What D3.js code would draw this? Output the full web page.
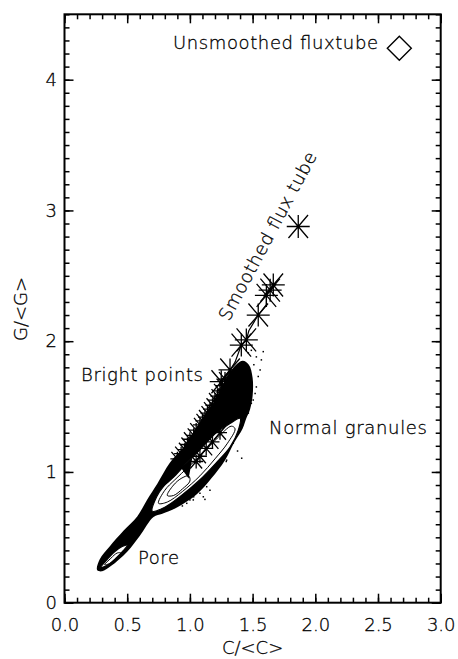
<!DOCTYPE html>
<html>
<head>
<meta charset="utf-8">
<script src="https://cdn.jsdelivr.net/npm/d3@7"></script>
<style>
  body { margin: 0; background: #fff; }
  svg { display: block; }
  text { font-family: "DejaVu Sans", sans-serif; font-size: 18px; font-weight: 200; fill: #000; stroke: #000; stroke-width: 0.3; }
</style>
</head>
<body>
<svg id="chart" width="458" height="659"></svg>
<script>
// Tick labels
const xTicks = [0, 0.5, 1, 1.5, 2, 2.5, 3];
const yTicks = [0, 1, 2, 3, 4];

// Envelope of the dense scatter cloud (C/<C>, G/<G>)
const cloudC = [0.26, 0.28, 0.36, 0.47, 0.58, 0.66, 0.74, 0.84, 0.95, 1.05, 1.19, 1.28, 1.34, 1.42, 1.47, 1.50, 1.50, 1.48, 1.45,
  1.42, 1.35, 1.28, 1.17, 1.055, 0.90, 0.78, 0.71, 0.60, 0.50, 0.37, 0.30];
const cloudG = [0.25, 0.33, 0.43, 0.55, 0.66, 0.79, 0.91, 1.07, 1.19, 1.33, 1.53, 1.70, 1.79, 1.85, 1.82, 1.72, 1.58, 1.48, 1.41,
  1.33, 1.22, 1.09, 0.95, 0.83, 0.73, 0.68, 0.655, 0.51, 0.39, 0.28, 0.24];

// Outer contour of the granule population
const granC = [0.70, 0.735, 0.79, 0.87, 0.975, 1.08, 1.21, 1.32, 1.40, 1.386, 1.32, 1.21, 1.08, 0.92, 0.80];
const granG = [0.70, 0.81, 0.89, 0.96, 1.07, 1.17, 1.30, 1.37, 1.41, 1.32, 1.19, 1.07, 0.94, 0.81, 0.73];

// Dense wedge reaching into the granule contour
const wedgeC = [0.93, 1.02, 0.99];
const wedgeG = [1.03, 1.11, 0.95];

// Inner granule contours
const gran2C = [0.75, 0.80, 0.88, 0.99, 1.10, 1.22, 1.33, 1.36, 1.30, 1.20, 1.08, 0.94, 0.82];
const gran2G = [0.76, 0.86, 0.94, 1.04, 1.14, 1.26, 1.35, 1.33, 1.22, 1.10, 0.97, 0.85, 0.77];
const gran3C = [0.82, 0.87, 0.93, 0.99, 1.00, 0.94, 0.87];
const gran3G = [0.82, 0.90, 0.95, 0.97, 0.93, 0.87, 0.82];

// Pore contours
const poreC = [0.29, 0.34, 0.40, 0.46, 0.50, 0.47, 0.41, 0.35];
const poreG = [0.27, 0.33, 0.39, 0.43, 0.44, 0.40, 0.34, 0.29];
const pore2C = [0.32, 0.37, 0.42, 0.45, 0.41, 0.36];
const pore2G = [0.29, 0.34, 0.38, 0.38, 0.34, 0.30];

// Sparse points outside the dense cloud
const dotC = [1.585, 1.57, 1.56, 1.545, 1.53, 1.52, 1.505, 1.49, 1.466, 1.51, 0.975, 1.03, 1.08, 1.134, 1.147, 1.107,
  1.00, 1.054, 1.413, 1.29, 1.346, 1.466, 1.49, 1.293, 1.027, 1.12, 1.16, 0.94, 1.38, 1.53];
const dotG = [1.92, 1.857, 1.78, 1.73, 1.65, 1.60, 1.55, 1.93, 1.91, 1.82, 0.76, 0.81, 0.837, 0.887, 0.964, 0.81,
  0.786, 0.862, 1.105, 1.08, 1.22, 1.45, 1.525, 1.09, 0.786, 0.79, 0.86, 0.74, 1.16, 1.88];

// Bright points
const brightC = [0.90, 0.93, 0.96, 0.98, 1.00, 1.03, 1.05, 1.08, 1.10, 1.12, 1.14, 1.16, 1.18, 1.20, 1.22, 1.24, 1.26, 1.28,
  1.08, 1.13, 1.18, 1.24, 1.05];
const brightG = [1.10, 1.14, 1.17, 1.21, 1.25, 1.28, 1.32, 1.36, 1.39, 1.42, 1.45, 1.48, 1.51, 1.55, 1.58, 1.62, 1.66, 1.71,
  1.12, 1.18, 1.23, 1.30, 1.08];

// Smoothed flux tube
const fluxC = [1.25, 1.32, 1.41, 1.45, 1.545, 1.61, 1.64, 1.665, 1.864];
const fluxG = [1.69, 1.78, 1.97, 2.01, 2.20, 2.35, 2.39, 2.43, 2.877];
const trackC = [1.25, 1.32, 1.36, 1.41, 1.45, 1.47, 1.545, 1.61, 1.61, 1.665];
const trackG = [1.69, 1.78, 1.84, 1.97, 2.01, 2.08, 2.20, 2.28, 2.36, 2.43];

// Unsmoothed flux tube
const rawC = [2.67];
const rawG = [4.24];

const svg = d3.select('#chart');

const x = d3.scaleLinear().domain([0, 3]).range([64.5, 440.7]);
const y = d3.scaleLinear().domain([0, 4.5]).range([602.7, 14.3]);

const pts = (cs, gs) => cs.map((c, i) => [x(c), y(gs[i])]);
const smooth = d3.line().curve(d3.curveCatmullRomClosed.alpha(0.5));

// Asterisk: horizontal, vertical and two steep diagonals
const asterisk = r => `M${-r},0H${r}M0,${-r}V${r}` +
  `M${-0.85 * r},${-r}L${0.85 * r},${r}M${-0.85 * r},${r}L${0.85 * r},${-r}`;

// Dense cloud
svg.append('path')
  .attr('d', smooth(pts(cloudC, cloudG)))
  .attr('fill', '#000');

// Outermost contours are left hollow
[[granC, granG], [poreC, poreG]].forEach(([cs, gs]) => {
  svg.append('path')
    .attr('d', smooth(pts(cs, gs)))
    .attr('fill', '#fff')
    .attr('stroke', '#000')
    .attr('stroke-width', 1.2);
});

svg.append('path')
  .attr('d', d3.line().curve(d3.curveLinearClosed)(pts(wedgeC, wedgeG)))
  .attr('fill', '#000');

// Inner contours
[[gran2C, gran2G], [gran3C, gran3G], [pore2C, pore2G]].forEach(([cs, gs]) => {
  svg.append('path')
    .attr('d', smooth(pts(cs, gs)))
    .attr('fill', 'none')
    .attr('stroke', '#000')
    .attr('stroke-width', 1);
});

// Sparse dots
svg.append('g').selectAll('rect')
  .data(pts(dotC, dotG))
  .enter().append('rect')
  .attr('x', d => d[0] - 0.75)
  .attr('y', d => d[1] - 0.75)
  .attr('width', 1.5)
  .attr('height', 1.5)
  .attr('fill', '#000');

// Bright points
svg.append('g').selectAll('path')
  .data(pts(brightC, brightG))
  .enter().append('path')
  .attr('transform', d => `translate(${d[0]},${d[1]})`)
  .attr('d', asterisk(7))
  .attr('fill', 'none')
  .attr('stroke', '#000')
  .attr('stroke-width', 1.3);

// Smoothed flux tube track and markers
svg.append('path')
  .attr('d', d3.line()(pts(trackC, trackG)))
  .attr('fill', 'none')
  .attr('stroke', '#000')
  .attr('stroke-width', 1.2);

svg.append('g').selectAll('path')
  .data(pts(fluxC, fluxG))
  .enter().append('path')
  .attr('transform', d => `translate(${d[0]},${d[1]})`)
  .attr('d', asterisk(11.5))
  .attr('fill', 'none')
  .attr('stroke', '#000')
  .attr('stroke-width', 1.3);

// Unsmoothed flux tube diamond
svg.append('g').selectAll('path')
  .data(pts(rawC, rawG))
  .enter().append('path')
  .attr('transform', d => `translate(${d[0]},${d[1]})`)
  .attr('d', 'M0,-12L12,0L0,12L-12,0Z')
  .attr('fill', 'none')
  .attr('stroke', '#000')
  .attr('stroke-width', 1.4);

// Axes: ticks point into the plot box
const x0 = x.range()[0];
const x1 = x.range()[1];
const y0 = y.range()[0];
const y1 = y.range()[1];
const minorX = d3.range(0, 31).map(i => i / 10);
const minorY = d3.range(0, 46).map(i => i / 10);

svg.append('g')
  .attr('transform', `translate(0,${y0})`)
  .call(d3.axisBottom(x).tickValues(xTicks).tickSize(-9).tickSizeOuter(0)
    .tickPadding(16).tickFormat(d3.format('.1f')));
svg.append('g')
  .attr('transform', `translate(0,${y0})`)
  .call(d3.axisBottom(x).tickValues(minorX).tickSize(-5).tickSizeOuter(0).tickFormat(''));
svg.append('g')
  .attr('transform', `translate(0,${y1})`)
  .call(d3.axisTop(x).tickValues(xTicks).tickSize(-9).tickSizeOuter(0).tickFormat(''));
svg.append('g')
  .attr('transform', `translate(0,${y1})`)
  .call(d3.axisTop(x).tickValues(minorX).tickSize(-5).tickSizeOuter(0).tickFormat(''));

svg.append('g')
  .attr('transform', `translate(${x0},0)`)
  .call(d3.axisLeft(y).tickValues(yTicks).tickSize(-9).tickSizeOuter(0)
    .tickPadding(7.5).tickFormat(d3.format('d')));
svg.append('g')
  .attr('transform', `translate(${x0},0)`)
  .call(d3.axisLeft(y).tickValues(minorY).tickSize(-5).tickSizeOuter(0).tickFormat(''));
svg.append('g')
  .attr('transform', `translate(${x1},0)`)
  .call(d3.axisRight(y).tickValues(yTicks).tickSize(-9).tickSizeOuter(0).tickFormat(''));
svg.append('g')
  .attr('transform', `translate(${x1},0)`)
  .call(d3.axisRight(y).tickValues(minorY).tickSize(-5).tickSizeOuter(0).tickFormat(''));

svg.selectAll('.domain').remove();
svg.selectAll('.tick line').attr('stroke', '#000').attr('stroke-width', 1.5);
svg.selectAll('.tick text')
  .attr('font-family', '"DejaVu Sans", sans-serif')
  .attr('font-size', 18)
  .attr('font-weight', 200)
  .attr('fill', '#000');

svg.append('rect')
  .attr('x', x0)
  .attr('y', y1)
  .attr('width', x1 - x0)
  .attr('height', y0 - y1)
  .attr('fill', 'none')
  .attr('stroke', '#000')
  .attr('stroke-width', 2);

// Axis titles
svg.append('text')
  .attr('x', (x0 + x1) / 2)
  .attr('y', 654)
  .attr('text-anchor', 'middle')
  .text('C/<C>');
svg.append('text')
  .attr('transform', 'translate(27,309)rotate(-90)')
  .attr('text-anchor', 'middle')
  .text('G/<G>');

// Annotations
const notes = [
  { t: 'Unsmoothed fluxtube', x: 173, y: 49, w: 205 },
  { t: 'Bright points', x: 81, y: 381, w: 122 },
  { t: 'Normal granules', x: 269, y: 434, w: 158 },
  { t: 'Pore', x: 138, y: 564, w: 41 },
];
notes.forEach(n => {
  svg.append('text')
    .attr('x', n.x)
    .attr('y', n.y)
    .attr('textLength', n.w)
    .attr('lengthAdjust', 'spacing')
    .text(n.t);
});
svg.append('text')
  .attr('transform', 'translate(229,322)rotate(-62)')
  .attr('textLength', 188)
  .attr('lengthAdjust', 'spacing')
  .text('Smoothed flux tube');
</script>
</body>
</html>
